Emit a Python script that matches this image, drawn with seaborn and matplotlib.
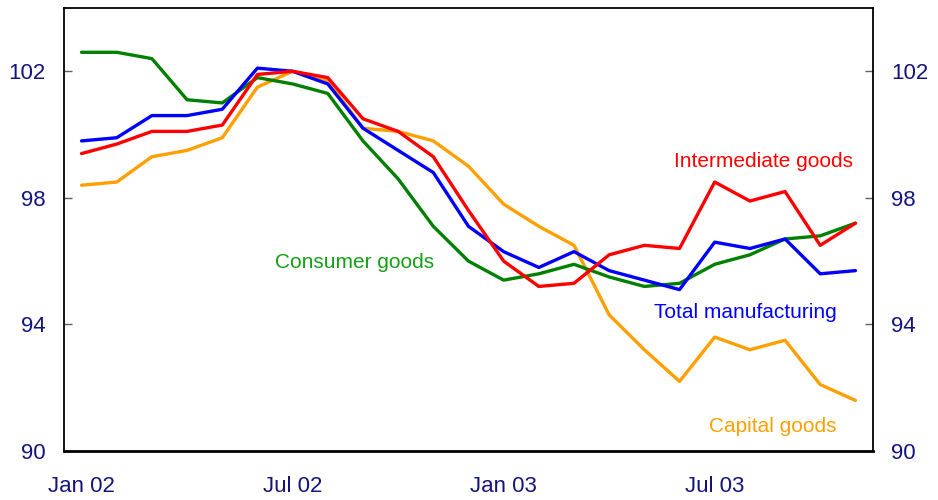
import numpy as np
import pandas as pd
import matplotlib
matplotlib.use('Agg')
import matplotlib.pyplot as plt
import seaborn as sns

months = ['Jan 02', 'Feb 02', 'Mar 02', 'Apr 02', 'May 02', 'Jun 02', 'Jul 02', 'Aug 02',
          'Sep 02', 'Oct 02', 'Nov 02', 'Dec 02', 'Jan 03', 'Feb 03', 'Mar 03', 'Apr 03',
          'May 03', 'Jun 03', 'Jul 03', 'Aug 03', 'Sep 03', 'Oct 03', 'Nov 03']

consumer = [102.6, 102.6, 102.4, 101.1, 101.0, 101.8, 101.6, 101.3, 99.8, 98.6, 97.1, 96.0,
            95.4, 95.6, 95.9, 95.5, 95.2, 95.3, 95.9, 96.2, 96.7, 96.8, 97.2]
total = [99.8, 99.9, 100.6, 100.6, 100.8, 102.1, 102.0, 101.6, 100.2, 99.5, 98.8, 97.1,
         96.3, 95.8, 96.3, 95.7, 95.4, 95.1, 96.6, 96.4, 96.7, 95.6, 95.7]
intermediate = [99.4, 99.7, 100.1, 100.1, 100.3, 101.9, 102.0, 101.8, 100.5, 100.1, 99.3, 97.6,
                96.0, 95.2, 95.3, 96.2, 96.5, 96.4, 98.5, 97.9, 98.2, 96.5, 97.2]
capital = [98.4, 98.5, 99.3, 99.5, 99.9, 101.5, 102.0, 101.7, 100.2, 100.1, 99.8, 99.0,
           97.8, 97.1, 96.5, 94.3, 93.2, 92.2, 93.6, 93.2, 93.5, 92.1, 91.6]

series_names = ['Capital goods', 'Consumer goods', 'Total manufacturing', 'Intermediate goods']
series_values = [capital, consumer, total, intermediate]
colors = {'Capital goods': '#ffa000', 'Consumer goods': '#008000',
          'Total manufacturing': '#0000ff', 'Intermediate goods': '#ff0000'}
text_colors = {'Capital goods': '#ffa000', 'Consumer goods': '#14a014',
               'Total manufacturing': '#0000ff', 'Intermediate goods': '#ff0000'}

y_ticks = [90, 94, 98, 102]
x_label_months = ['Jan 02', 'Jul 02', 'Jan 03', 'Jul 03']

rows = []
for name, vals in zip(series_names, series_values):
    for i, v in enumerate(vals):
        rows.append({'month': i, 'value': v, 'series': name})
df = pd.DataFrame(rows)

sns.set_style('white')
plt.rcParams['font.family'] = ['Liberation Sans', 'DejaVu Sans']
navy = '#14147f'

fig = plt.figure(figsize=(9.38, 5.0), dpi=100)
ax = fig.add_axes([0.0682, 0.098, 0.8625, 0.886])

sns.lineplot(data=df, x='month', y='value', hue='series', palette=colors,
             hue_order=series_names, linewidth=2.4, ax=ax, legend=False)

ax.set_xlim(-0.5, len(months) - 0.5)
ax.set_ylim(90, 104)
ax.set_xlabel('')
ax.set_ylabel('')

# labels at mid-month, tick marks at month boundaries
label_pos = [months.index(m) for m in x_label_months]
ax.set_xticks([5.5, 11.5, 17.5])
ax.set_xticklabels([])
ax.set_xticks(label_pos, minor=True)
ax.set_xticklabels(x_label_months, minor=True)
ax.tick_params(axis='x', which='major', direction='in', length=6, width=1, color='#404040')
ax.tick_params(axis='x', which='minor', length=0, pad=18, labelsize=16, labelcolor=navy)

ax.set_yticks(y_ticks)
ax.tick_params(axis='y', direction='in', length=6, width=1, color='#606060',
               left=True, right=True, labelleft=True, labelright=True,
               labelsize=16, labelcolor=navy, pad=13)

for s in ax.spines.values():
    s.set_visible(True)
    s.set_color('black')
    s.set_linewidth(1.3)
ax.spines['bottom'].set_linewidth(2)

ax.text(19.4, 99.16, 'Intermediate goods', color=text_colors['Intermediate goods'],
        fontsize=15, ha='center', va='center')
ax.text(7.77, 95.97, 'Consumer goods', color=text_colors['Consumer goods'],
        fontsize=15, ha='center', va='center')
ax.text(18.86, 94.39, 'Total manufacturing', color=text_colors['Total manufacturing'],
        fontsize=15, ha='center', va='center')
ax.text(19.66, 90.76, 'Capital goods', color=text_colors['Capital goods'],
        fontsize=15, ha='center', va='center')

plt.savefig('out.png', dpi=100)
plt.close()
